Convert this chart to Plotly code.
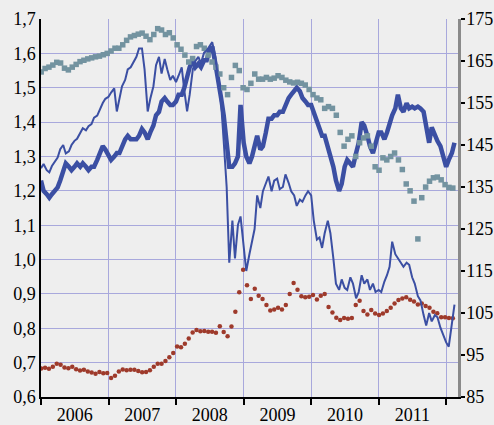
import pandas as pd
import plotly.graph_objects as go

# semi-monthly points for the two lines, 3-weekly points for the dotted series
line_dates = pd.date_range("2006-01-01", periods=148, freq="SMS")
dot_dates = pd.date_range("2006-01-02", periods=107, freq="21D")

# thick line, left axis
eur_usd = [
    1.23, 1.20, 1.19, 1.18, 1.19, 1.20, 1.21, 1.23, 1.26, 1.28, 1.27, 1.26,
    1.27, 1.28, 1.27, 1.28, 1.27, 1.26, 1.27, 1.27, 1.29, 1.31, 1.33, 1.32,
    1.30, 1.29, 1.30, 1.31, 1.31, 1.33, 1.35, 1.36, 1.35, 1.35, 1.35, 1.36,
    1.38, 1.37, 1.35, 1.37, 1.39, 1.42, 1.43, 1.46, 1.47, 1.46, 1.45, 1.45,
    1.46, 1.48, 1.48, 1.50, 1.53, 1.56, 1.58, 1.56, 1.57, 1.56, 1.58, 1.58,
    1.61, 1.62, 1.57, 1.53, 1.47, 1.42, 1.32, 1.27, 1.27, 1.28, 1.30, 1.45,
    1.34, 1.30, 1.28, 1.30, 1.33, 1.36, 1.32, 1.33, 1.37, 1.41, 1.41, 1.42,
    1.42, 1.43, 1.43, 1.45, 1.47, 1.48, 1.49, 1.50, 1.49, 1.47, 1.46, 1.45,
    1.45, 1.43, 1.40, 1.38, 1.36, 1.36, 1.33, 1.30, 1.27, 1.23, 1.20, 1.22,
    1.27, 1.29, 1.28, 1.27, 1.31, 1.34, 1.40, 1.39, 1.36, 1.33, 1.31, 1.34,
    1.37, 1.37, 1.35, 1.37, 1.40, 1.42, 1.44, 1.48, 1.44, 1.43, 1.455, 1.44,
    1.445, 1.44, 1.445, 1.44, 1.43, 1.39, 1.34, 1.385, 1.36, 1.345, 1.33, 1.30,
    1.27, 1.29, 1.31, 1.34,
]

# thin line, right axis
eur_jpy = [
    139.5, 140.5, 139, 138.5, 140, 141, 142, 144, 145, 143, 143.5, 145,
    146, 146.5, 148, 149, 148.5, 149.5, 150, 151.5, 152, 153.5, 155, 156,
    156.5, 157.5, 158.5, 153, 156, 159, 160.5, 163, 163.5, 164.5, 166, 168,
    168, 163, 153, 156, 159, 164, 166, 162, 165.5, 163, 160.5, 161.5,
    160, 161.5, 163.5, 158, 153, 157, 163, 165, 166, 164.5, 167, 167.5,
    168.5, 169.5, 166, 161, 155, 146, 135, 117, 127, 118, 126, 128,
    120, 115, 119, 122, 125, 133, 130, 134, 136, 137.5, 134, 136.5,
    137, 134.5, 135, 138, 136, 134, 133, 130.5, 132, 131.5, 133, 134,
    133, 127, 122.5, 123, 120.5, 124, 127, 124, 118, 112, 110.5, 113,
    111, 110.5, 113.5, 112, 108.5, 110, 114, 112, 113, 110.5, 112, 110,
    110.5, 110, 112.5, 114, 116, 122, 119, 118, 117, 116, 117, 116.5,
    113.5, 112, 109, 108, 104.5, 102, 105, 103, 104.5, 104, 101.5, 100,
    98, 97, 102, 107,
]

# grey squares, left axis
eur_chf = [
    1.546, 1.556, 1.560, 1.566, 1.574, 1.572, 1.557, 1.552, 1.560, 1.568,
    1.576, 1.580, 1.584, 1.587, 1.590, 1.592, 1.596, 1.600, 1.607, 1.615,
    1.615, 1.625, 1.638, 1.648, 1.652, 1.656, 1.659, 1.650, 1.640, 1.655,
    1.672, 1.668, 1.655, 1.660, 1.645, 1.625, 1.612, 1.595, 1.575, 1.585,
    1.620, 1.625, 1.615, 1.595, 1.575, 1.560, 1.540, 1.500, 1.480, 1.530,
    1.565, 1.550, 1.500, 1.495, 1.513, 1.540, 1.525, 1.525, 1.530, 1.525,
    1.528, 1.535, 1.530, 1.522, 1.517, 1.514, 1.516, 1.513, 1.508, 1.495,
    1.480, 1.470, 1.465, 1.440, 1.445, 1.440, 1.420, 1.370, 1.330, 1.350,
    1.360, 1.300, 1.340, 1.354, 1.360, 1.330, 1.270, 1.260, 1.296, 1.290,
    1.300, 1.310, 1.290, 1.262, 1.220, 1.200, 1.170, 1.060, 1.180, 1.211,
    1.228, 1.238, 1.240, 1.232, 1.218, 1.210, 1.208,
]

# red dots, left axis
eur_gbp = [
    0.683, 0.685, 0.682, 0.688, 0.697, 0.694, 0.686, 0.684, 0.688, 0.681,
    0.677, 0.679, 0.674, 0.671, 0.668, 0.673, 0.669, 0.670, 0.655, 0.662,
    0.674, 0.680, 0.678, 0.679, 0.679, 0.676, 0.672, 0.673, 0.678, 0.688,
    0.697, 0.697, 0.705, 0.716, 0.728, 0.747, 0.745, 0.755, 0.770, 0.788,
    0.795, 0.791, 0.792, 0.790, 0.790, 0.787, 0.806, 0.789, 0.777, 0.805,
    0.848, 0.905, 0.970, 0.925, 0.885, 0.915, 0.895, 0.885, 0.868, 0.852,
    0.855, 0.860, 0.855, 0.868, 0.900, 0.932, 0.912, 0.893, 0.890, 0.892,
    0.897, 0.884, 0.895, 0.900, 0.862, 0.846, 0.831, 0.824, 0.830, 0.828,
    0.830, 0.868, 0.880, 0.850, 0.840, 0.853, 0.843, 0.839, 0.843, 0.850,
    0.860, 0.872, 0.882, 0.887, 0.890, 0.883, 0.878, 0.869, 0.872, 0.865,
    0.860, 0.848, 0.844, 0.832, 0.832, 0.830, 0.829,
]

blue = "#3b4fa3"
grid = "#a8a8dc"

fig = go.Figure()
fig.add_trace(go.Scatter(x=line_dates, y=eur_usd, mode="lines",
                         line=dict(color=blue, width=4.5)))
fig.add_trace(go.Scatter(x=dot_dates, y=eur_chf, mode="markers",
                         marker=dict(symbol="square", size=5.5, color="#7393a0")))
fig.add_trace(go.Scatter(x=dot_dates, y=eur_gbp, mode="markers",
                         marker=dict(size=4.5, color="#9e3a2b")))
fig.add_trace(go.Scatter(x=line_dates, y=eur_jpy, yaxis="y2", mode="lines",
                         line=dict(color=blue, width=2)))

fig.update_layout(
    width=494, height=425,
    margin=dict(l=41, r=36, t=19, b=28),
    paper_bgcolor="#eeeeee", plot_bgcolor="#eeeeee",
    showlegend=False,
    separators=", ",
    font=dict(family="Liberation Serif, Times New Roman, serif", size=18, color="black"),
    xaxis=dict(type="date", range=["2006-01-01", "2012-03-05"],
               tick0="2006-01-01", dtick="M12", ticklabelmode="period", tickformat="%Y",
               showgrid=True, gridcolor=grid, gridwidth=1,
               showline=True, linecolor="black", linewidth=1.5,
               ticks="outside", ticklen=6, tickcolor="black", tickwidth=1.5,
               ticklabelstandoff=-5,
               zeroline=False, automargin=False),
    yaxis=dict(range=[0.6, 1.7001], tick0=0.6, dtick=0.1, tickformat=".1f",
               showgrid=True, gridcolor=grid, gridwidth=1,
               showline=True, linecolor="black", linewidth=1.5,
               ticks="", zeroline=False, automargin=False),
    yaxis2=dict(overlaying="y", side="right", range=[85, 175.01], tick0=85, dtick=10,
                showgrid=False, showline=True, linecolor="#8a8a8a", linewidth=2.5,
                ticks="outside", ticklen=4, tickcolor="black", tickwidth=1.5,
                ticklabelstandoff=-2,
                zeroline=False, automargin=False),
)

# page body has a default 8px margin; drop it so the figure fills the window
fig.write_html("out.html", config={"displayModeBar": False},
               post_script="document.body.style.margin='0';")
